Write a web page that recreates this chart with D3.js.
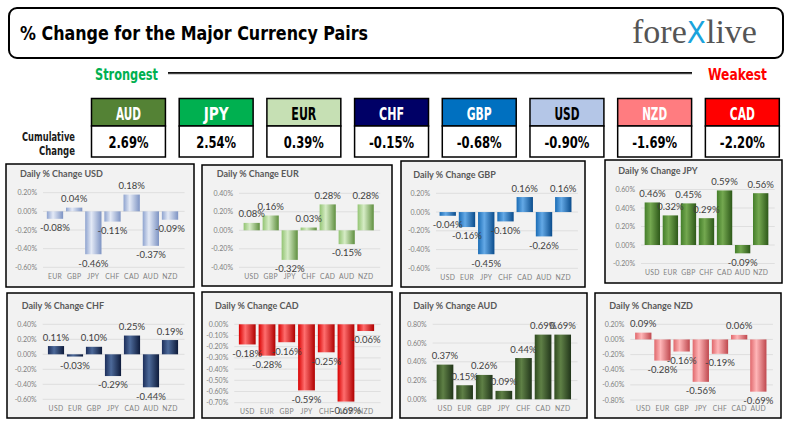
<!DOCTYPE html>
<html><head><meta charset="utf-8">
<script src="https://cdn.jsdelivr.net/npm/d3@7"></script>
<style>body{margin:0;background:#fff}svg{display:block}</style>
</head><body><svg id="c" width="792" height="429"></svg>
<script>
// ---------- DATA ----------
const cumCurrencies = ["AUD","JPY","EUR","CHF","GBP","USD","NZD","CAD"];
const cumValues = [2.69, 2.54, 0.39, -0.15, -0.68, -0.90, -1.69, -2.20];

const usdCats = ["EUR","GBP","JPY","CHF","CAD","AUD","NZD"];
const usdVals = [-0.08, 0.04, -0.46, -0.11, 0.18, -0.37, -0.09];
const usdTicks = [0.2, 0, -0.2, -0.4, -0.6];

const eurCats = ["USD","GBP","JPY","CHF","CAD","AUD","NZD"];
const eurVals = [0.08, 0.16, -0.32, 0.03, 0.28, -0.15, 0.28];
const eurTicks = [0.4, 0.2, 0, -0.2, -0.4];

const gbpCats = ["USD","EUR","JPY","CHF","CAD","AUD","NZD"];
const gbpVals = [-0.04, -0.16, -0.45, -0.10, 0.16, -0.26, 0.16];
const gbpTicks = [0.2, 0, -0.2, -0.4, -0.6];

const jpyCats = ["USD","EUR","GBP","CHF","CAD","AUD","NZD"];
const jpyVals = [0.46, 0.32, 0.45, 0.29, 0.59, -0.09, 0.56];
const jpyTicks = [0.6, 0.4, 0.2, 0, -0.2];

const chfCats = ["USD","EUR","GBP","JPY","CAD","AUD","NZD"];
const chfVals = [0.11, -0.03, 0.10, -0.29, 0.25, -0.44, 0.19];
const chfTicks = [0.4, 0.2, 0, -0.2, -0.4, -0.6];

const cadCats = ["USD","EUR","GBP","JPY","CHF","AUD","NZD"];
const cadVals = [-0.18, -0.28, -0.16, -0.59, -0.25, -0.69, -0.06];
const cadTicks = [0, -0.1, -0.2, -0.3, -0.4, -0.5, -0.6, -0.7];

const audCats = ["USD","EUR","GBP","JPY","CHF","CAD","NZD"];
const audVals = [0.37, 0.15, 0.26, 0.09, 0.44, 0.69, 0.69];
const audTicks = [0.8, 0.6, 0.4, 0.2, 0];

const nzdCats = ["USD","EUR","GBP","JPY","CHF","CAD","AUD"];
const nzdVals = [0.09, -0.28, -0.16, -0.56, -0.19, 0.06, -0.69];
const nzdTicks = [0.2, 0, -0.2, -0.4, -0.6, -0.8];

// ---------- STYLE / LAYOUT ----------
const cumStyle = {
  AUD:{fill:"#548235",text:"#fff"}, JPY:{fill:"#00B050",text:"#fff"},
  EUR:{fill:"#C6E0B4",text:"#000"}, CHF:{fill:"#000066",text:"#fff"},
  GBP:{fill:"#0070C0",text:"#fff"}, USD:{fill:"#B4C6E7",text:"#000"},
  NZD:{fill:"#FF7C80",text:"#fff"}, CAD:{fill:"#FF0000",text:"#fff"}
};
const narrow = "'Liberation Sans Narrow','Arial Narrow','DejaVu Sans Condensed',sans-serif";
const small = "Lato,'Open Sans',sans-serif";

const panels = [
  {name:"USD", cats:usdCats, vals:usdVals, ticks:usdTicks, box:[6,164,194,287], xr:[45.4,179.6], yr:[192.7,267.3], tickX:37, title:[20,176.5], xlabY:278.5, grad:["#8EA3CF","#E4EAF6","#7D93C3"]},
  {name:"EUR", cats:eurCats, vals:eurVals, ticks:eurTicks, box:[202,165,392,286], xr:[242.2,375.2], yr:[193.3,267.3], tickX:233, title:[216.7,177], xlabY:278.5, grad:["#93C473","#D6ECC6","#5F8F3F"]},
  {name:"GBP", cats:gbpCats, vals:gbpVals, ticks:gbpTicks, box:[401,161,585,287], xr:[438.1,572.9], yr:[193.3,268.3], tickX:430, title:[413.3,178], xlabY:279.5, grad:["#1A6CB5","#64A9E6","#0A4C8C"]},
  {name:"JPY", cats:jpyCats, vals:jpyVals, ticks:jpyTicks, box:[605,160,782,283], xr:[643.3,769.7], yr:[189.5,263.5], tickX:635, title:[618.3,174], xlabY:275, grad:["#447E2A","#74A850","#2D5819"]},
  {name:"CHF", cats:chfCats, vals:chfVals, ticks:chfTicks, box:[7,293,194,418], xr:[46.5,179.5], yr:[324.3,399.3], tickX:36.7, title:[21.7,309], xlabY:410.8, grad:["#1C2E5A","#4D6A9A","#0E1B3B"]},
  {name:"CAD", cats:cadCats, vals:cadVals, ticks:cadTicks, box:[202,292,392,418], xr:[237.4,375.6], yr:[324.3,402.7], tickX:228.3, title:[215,309], xlabY:414, grad:["#D80000","#FF6E6E","#B00000"]},
  {name:"AUD", cats:audCats, vals:audVals, ticks:audTicks, box:[400,293,587,418], xr:[435.2,572.5], yr:[324.3,399.3], tickX:426.7, title:[413.3,309], xlabY:410.8, grad:["#2F4B1F","#5F8046","#21351A"]},
  {name:"NZD", cats:nzdCats, vals:nzdVals, ticks:nzdTicks, box:[595,293,781,418], xr:[633.7,767.9], yr:[324.3,400], tickX:624.3, title:[609.3,309], xlabY:410.8, grad:["#E0686C","#FFB6B8","#BF484E"]}
];

const svg = d3.select("#c");
const defs = svg.append("defs");
const pct = v => (v < -1e-9 ? "-" : "") + Math.abs(v).toFixed(2) + "%";

// ---------- HEADER ----------
svg.append("rect").attr("x",9).attr("y",8).attr("width",774).attr("height",50)
  .attr("rx",8).attr("fill","#fff").attr("stroke","#000").attr("stroke-width",2);
svg.append("text").attr("x",20).attr("y",40)
  .attr("font-family",narrow).attr("font-weight","bold").attr("font-size",20)
  .attr("textLength",348).attr("lengthAdjust","spacingAndGlyphs")
  .attr("fill","#000").text("% Change for the Major Currency Pairs");

const logo = svg.append("text").attr("x",632).attr("y",43)
  .attr("font-family","'Liberation Serif','DejaVu Serif',serif").attr("font-size",33).attr("fill","#555");
logo.append("tspan").text("fore");
logo.append("tspan").attr("fill","#1AA3DC").attr("font-family",narrow).attr("font-size",30).text("X");
logo.append("tspan").text("live");
logo.attr("textLength",125).attr("lengthAdjust","spacingAndGlyphs");

// Strongest / Weakest
svg.append("text").attr("x",95).attr("y",80).attr("font-family",narrow).attr("font-weight","bold")
  .attr("font-size",16).attr("fill","#00B050").attr("textLength",63).attr("lengthAdjust","spacingAndGlyphs").text("Strongest");
svg.append("text").attr("x",708).attr("y",80).attr("font-family",narrow).attr("font-weight","bold")
  .attr("font-size",16).attr("fill","#FF0000").attr("textLength",59).attr("lengthAdjust","spacingAndGlyphs").text("Weakest");
svg.append("line").attr("x1",168).attr("x2",692).attr("y1",74).attr("y2",74).attr("stroke","#aaa").attr("stroke-width",1);
svg.append("line").attr("x1",168).attr("x2",692).attr("y1",72.8).attr("y2",72.8).attr("stroke","#111").attr("stroke-width",1.8);

// Cumulative Change label
svg.append("text").attr("x",75).attr("y",141).attr("text-anchor","end").attr("font-family",narrow)
  .attr("font-weight","bold").attr("font-size",11.5).attr("fill","#1a1a1a")
  .attr("textLength",53).attr("lengthAdjust","spacingAndGlyphs").text("Cumulative");
svg.append("text").attr("x",75).attr("y",154.5).attr("text-anchor","end").attr("font-family",narrow)
  .attr("font-weight","bold").attr("font-size",11.5).attr("fill","#1a1a1a")
  .attr("textLength",36).attr("lengthAdjust","spacingAndGlyphs").text("Change");

const cx = d3.scaleBand().domain(cumCurrencies).range([91.5, 779.3]).paddingInner(0.157).paddingOuter(0);
const cg = svg.append("g").selectAll("g").data(cumCurrencies.map((c,i)=>({c, v:cumValues[i]}))).join("g");
cg.append("rect").attr("x",d=>cx(d.c)).attr("y",98.5).attr("width",cx.bandwidth()).attr("height",27.5)
  .attr("fill",d=>cumStyle[d.c].fill).attr("stroke","#000").attr("stroke-width",1.5);
cg.append("rect").attr("x",d=>cx(d.c)).attr("y",126).attr("width",cx.bandwidth()).attr("height",31)
  .attr("fill","#fff").attr("stroke","#000").attr("stroke-width",1.5);
cg.append("text").attr("x",d=>cx(d.c)+cx.bandwidth()/2).attr("y",119.5).attr("text-anchor","middle")
  .attr("font-family",narrow).attr("font-weight","bold").attr("font-size",17)
  .attr("fill",d=>cumStyle[d.c].text)
  .attr("textLength",25).attr("lengthAdjust","spacingAndGlyphs").text(d=>d.c);
cg.append("text").attr("x",d=>cx(d.c)+cx.bandwidth()/2).attr("y",148).attr("text-anchor","middle")
  .attr("font-family",narrow).attr("font-weight","bold").attr("font-size",16.5)
  .attr("fill","#000").text(d=>pct(d.v))
  .attr("textLength",d=>15 + 5*pct(d.v).length).attr("lengthAdjust","spacingAndGlyphs");

// ---------- PANELS ----------
panels.forEach(p => {
  const g = svg.append("g");
  const [bx0,by0,bx1,by1] = p.box;
  g.append("rect").attr("x",bx0).attr("y",by0).attr("width",bx1-bx0).attr("height",by1-by0)
    .attr("fill","#F2F2F2").attr("stroke","#000").attr("stroke-width",1.5);

  const gid = "grad"+p.name;
  const lg = defs.append("linearGradient").attr("id",gid).attr("x1",0).attr("x2",1).attr("y1",0).attr("y2",0);
  lg.append("stop").attr("offset","0%").attr("stop-color",p.grad[0]);
  lg.append("stop").attr("offset","38%").attr("stop-color",p.grad[1]);
  lg.append("stop").attr("offset","100%").attr("stop-color",p.grad[2]);

  const x = d3.scaleBand().domain(p.cats).range(p.xr).paddingInner(0.15).paddingOuter(0.075);
  const y = d3.scaleLinear().domain([d3.min(p.ticks), d3.max(p.ticks)]).range([p.yr[1], p.yr[0]]);

  g.append("text").attr("x",p.title[0]).attr("y",p.title[1]).attr("font-family",small)
    .attr("font-weight","bold").attr("font-size",9).attr("fill","#595959")
    .text("Daily % Change " + p.name);

  // gridlines
  g.append("g").selectAll("line").data(p.ticks).join("line")
    .attr("x1",p.tickX+6).attr("x2",p.xr[1]+5).attr("y1",d=>y(d)).attr("y2",d=>y(d))
    .attr("stroke","#D9D9D9").attr("stroke-width",0.8);
  // y tick labels
  g.append("g").selectAll("text").data(p.ticks).join("text")
    .attr("x",p.tickX).attr("y",d=>y(d)+2.5).attr("text-anchor","end")
    .attr("font-family",small).attr("font-size",7).attr("fill","#7F7F7F")
    .text(d=>pct(d));
  // x labels
  g.append("g").selectAll("text").data(p.cats).join("text")
    .attr("x",d=>x(d)+x.bandwidth()/2).attr("y",p.xlabY).attr("text-anchor","middle")
    .attr("font-family",small).attr("font-size",6.8).attr("letter-spacing",0.3).attr("fill","#7F7F7F")
    .text(d=>d);

  const data = p.cats.map((c,i)=>({c, v:p.vals[i]}));
  // bars
  g.append("g").selectAll("rect").data(data).join("rect")
    .attr("x",d=>x(d.c)).attr("width",x.bandwidth())
    .attr("y",d=>y(Math.max(0,d.v))).attr("height",d=>Math.abs(y(d.v)-y(0)))
    .attr("fill","url(#"+gid+")");
  // data labels
  g.append("g").selectAll("text").data(data).join("text")
    .attr("x",d=>x(d.c)+x.bandwidth()/2)
    .attr("y",d=>d.v>=0 ? y(d.v)-5.5 : y(d.v)+12.3)
    .attr("text-anchor","middle").attr("font-family",small).attr("font-size",9.5).attr("fill","#404040")
    .text(d=>pct(d.v));
});
</script>
</body></html>
